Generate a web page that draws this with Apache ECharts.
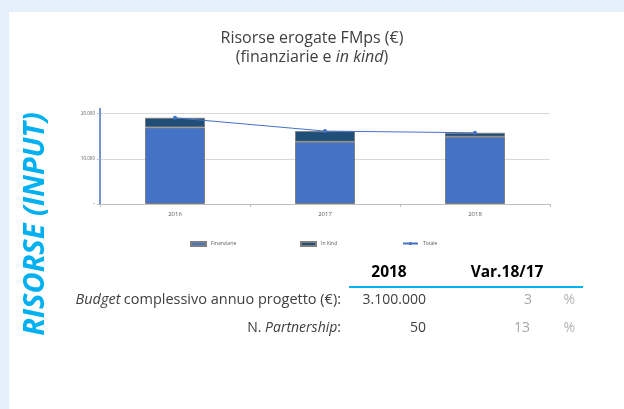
<!DOCTYPE html>
<html><head><meta charset="utf-8">
<script src="https://cdn.jsdelivr.net/npm/echarts@6/dist/echarts.min.js"></script>
<style>html,body{margin:0;padding:0;background:#e3f0fc}#c{width:624px;height:409px}</style>
</head><body><div id="c"></div>
<script>
const categories = ['2016', '2017', '2018'];
const finanziarie = [16930, 13750, 14860];
const inKind = [2120, 2360, 880];
const totale = [19050, 16110, 15740];
const yTicks = [0, 10000, 20000];
const tableHeader = ['2018', 'Var.18/17'];
const rowBudget = ['3.100.000', '3', '%'];
const rowPartner = ['50', '13', '%'];

const FONT = '"Open Sans", "Noto Sans", sans-serif';
function fmt(v){ if(v===0) return '-'; return String(v).replace(/\B(?=(\d{3})+(?!\d))/g,'.'); }

const chart = echarts.init(document.getElementById('c'), null, {renderer:'canvas'});
const legendText = {fontFamily:FONT,fontSize:5,color:'#595959'};
chart.setOption({
  animation:false,
  backgroundColor:'#e3f0fc',
  title:{
    left:'center', top:24, itemGap:0,
    text:'Risorse erogate FMps (€)',
    textStyle:{fontFamily:FONT,fontSize:16,fontWeight:'normal',color:'#404040',lineHeight:19},
    subtext:'{a|(finanziarie e }{b|in kind}{a|)}',
    subtextStyle:{rich:{
      a:{fontFamily:FONT,fontSize:16,color:'#404040',lineHeight:19},
      b:{fontFamily:FONT,fontSize:16,color:'#404040',fontStyle:'italic',lineHeight:19}
    }}
  },
  grid:{left:100,right:74,top:113.5,bottom:205,containLabel:false},
  legend:[
    {data:['Finanziarie'],left:185,top:236,itemWidth:15,itemHeight:4,icon:'rect',textStyle:legendText},
    {data:['In Kind'],left:295,top:236,itemWidth:15,itemHeight:4,icon:'rect',textStyle:legendText},
    {data:['Totale'],left:397,top:236,itemWidth:15,itemHeight:4,textStyle:legendText}
  ],
  xAxis:{type:'category',data:categories,
    axisLine:{lineStyle:{color:'#bfbfbf',width:1}},
    axisTick:{show:true,alignWithLabel:false,length:3,lineStyle:{color:'#bfbfbf'}},
    axisLabel:{fontFamily:FONT,fontSize:6,color:'#595959',margin:7}},
  yAxis:{type:'value',min:0,max:20000,interval:10000,
    axisLine:{show:true,lineStyle:{color:'#4472c4',width:1.5}},
    axisTick:{show:true,length:3,lineStyle:{color:'#bfbfbf'}},
    axisLabel:{fontFamily:FONT,fontSize:4.5,color:'#595959',margin:5,formatter:fmt},
    splitLine:{lineStyle:{color:'#d9d9d9',width:1}}},
  series:[
    {name:'Finanziarie',type:'bar',stack:'s',data:finanziarie,barWidth:60,
     itemStyle:{color:'#4472c4',borderColor:'#7f7f7f',borderWidth:1}},
    {name:'In Kind',type:'bar',stack:'s',data:inKind,barWidth:60,
     itemStyle:{color:'#1f4e79',borderColor:'#7f7f7f',borderWidth:1}},
    {name:'Totale',type:'line',data:totale,symbol:'circle',symbolSize:4,
     lineStyle:{color:'#4472c4',width:1},itemStyle:{color:'#4472c4'},z:5}
  ],
  graphic:[
    {type:'rect',left:9,top:12,shape:{width:615,height:397},style:{fill:'#ffffff'},z:-10,silent:true},
    {type:'line',shape:{x1:100,y1:108,x2:100,y2:114},style:{stroke:'#4472c4',lineWidth:1.5}},
    {type:'text',x:36,y:224,rotation:Math.PI/2,
     style:{text:'RISORSE (INPUT)',fontFamily:FONT,fontSize:29,fontWeight:'bold',fontStyle:'italic',
       fill:'#00b0f0',textAlign:'center',textVerticalAlign:'middle'}},
    {type:'text',x:389,y:273,style:{text:tableHeader[0],fontFamily:FONT,fontSize:15.5,fontWeight:'bold',fill:'#000',textAlign:'center',textVerticalAlign:'middle'}},
    {type:'text',x:507,y:273,style:{text:tableHeader[1],fontFamily:FONT,fontSize:15.5,fontWeight:'bold',fill:'#000',textAlign:'center',textVerticalAlign:'middle'}},
    {type:'line',shape:{x1:349,y1:287,x2:583,y2:287},style:{stroke:'#00b0f0',lineWidth:2}},
    {type:'text',x:341,y:300,style:{text:'{i|Budget} {n|complessivo annuo progetto (€):}',textAlign:'right',textVerticalAlign:'middle',
      rich:{i:{fontFamily:FONT,fontSize:14.5,fontStyle:'italic',fill:'#404040'},n:{fontFamily:FONT,fontSize:14.5,fill:'#404040'}}}},
    {type:'text',x:341,y:328,style:{text:'{n|N. }{i|Partnership}{n|:}',textAlign:'right',textVerticalAlign:'middle',
      rich:{i:{fontFamily:FONT,fontSize:14,fontStyle:'italic',fill:'#404040'},n:{fontFamily:FONT,fontSize:14,fill:'#404040'}}}},
    {type:'text',x:426,y:300,style:{text:rowBudget[0],fontFamily:FONT,fontSize:14,fill:'#404040',textAlign:'right',textVerticalAlign:'middle'}},
    {type:'text',x:532,y:300,style:{text:rowBudget[1],fontFamily:FONT,fontSize:14,fill:'#a6a6a6',textAlign:'right',textVerticalAlign:'middle'}},
    {type:'text',x:575,y:300,style:{text:rowBudget[2],fontFamily:FONT,fontSize:14,fill:'#b4b4b4',textAlign:'right',textVerticalAlign:'middle'}},
    {type:'text',x:426,y:328,style:{text:rowPartner[0],fontFamily:FONT,fontSize:14,fill:'#404040',textAlign:'right',textVerticalAlign:'middle'}},
    {type:'text',x:530,y:328,style:{text:rowPartner[1],fontFamily:FONT,fontSize:14,fill:'#a6a6a6',textAlign:'right',textVerticalAlign:'middle'}},
    {type:'text',x:575,y:328,style:{text:rowPartner[2],fontFamily:FONT,fontSize:14,fill:'#b4b4b4',textAlign:'right',textVerticalAlign:'middle'}}
  ]
});
</script></body></html>
